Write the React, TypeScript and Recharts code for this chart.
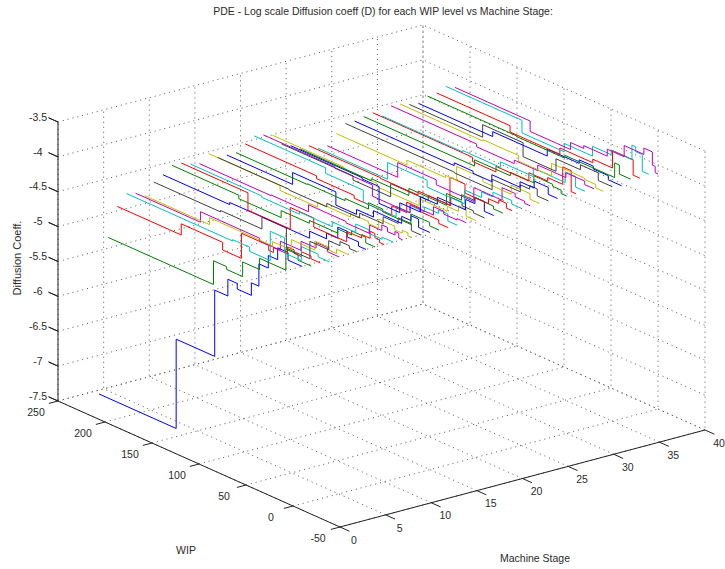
import React from "react";
import { LineChart, Line, XAxis, YAxis, ReferenceDot } from "recharts";

const W = 725;
const H = 569;

const stageTicks = [0, 5, 10, 15, 20, 25, 30, 35, 40];
const wipTicks = [-50, 0, 50, 100, 150, 200, 250];
const coeffTicks = [-7.5, -7, -6.5, -6, -5.5, -5, -4.5, -4, -3.5];

// each list: [wip where the level starts, log D level]; runs down to wip 0
const stage01 = [[216, -7.23], [134, -5.95], [93, -5.0], [79, -4.76], [69, -4.84], [54, -4.66], [46, -4.34], [36, -4.16], [26, -3.99], [15, -4.1]];
const stage02 = [[216, -5.02], [104, -4.68], [90, -4.72], [73, -4.51], [55, -4.35], [27, -4.05], [14, -4.13]];
const stage03 = [[216, -4.61], [148, -4.45], [104, -4.56], [84, -4.2], [55, -4.27], [50, -4.2], [35, -4.1], [28, -4.15], [20, -4.08], [10, -4.12]];
const stage04 = [[216, -4.46], [103, -4.44], [85, -4.5], [63, -4.08], [48, -4.3], [30, -4.1], [12, -4.14]];
const stage05 = [[216, -4.49], [147, -4.34], [84, -4.38], [62, -4.25], [40, -4.12], [24, -4.04], [12, -4.1]];
const stage06 = [[216, -4.56], [147, -4.46], [80, -4.4], [60, -4.25], [35, -4.12], [20, -4.16], [12, -4.1]];
const stage07 = [[216, -4.4], [145, -4.38], [101, -4.21], [75, -4.5], [50, -4.25], [30, -4.12], [18, -4.06], [8, -4.1]];
const stage08 = [[216, -4.33], [145, -4.3], [100, -4.3], [60, -4.2], [42, -4.12], [30, -3.96], [20, -4.04], [8, -4.1]];
const stage09 = [[216, -4.23], [145, -4.28], [100, -4.18], [70, -4.14], [40, -4.08], [25, -4.02], [10, -4.1]];
const stage10 = [[216, -4.23], [145, -4.48], [100, -4.17], [75, -4.3], [40, -4.15], [24, -4.1], [15, -4.0], [10, -4.06], [5, -4.1]];
const stage11 = [[216, -4.28], [140, -4.3], [100, -4.27], [65, -4.2], [40, -4.08], [26, -4.13], [12, -4.1]];
const stage12 = [[216, -4.31], [140, -4.3], [100, -4.2], [60, -4.22], [35, -4.1], [22, -4.02], [16, -4.08], [8, -4.03], [4, -4.1]];
const stage13 = [[216, -4.2], [140, -4.27], [100, -4.2], [65, -4.15], [46, -4.18], [35, -4.05], [18, -4.1], [10, -4.06], [4, -4.1]];
const stage14 = [[216, -4.29], [140, -4.3], [100, -4.25], [65, -4.18], [40, -4.08], [24, -4.0], [10, -4.1]];
const stage15 = [[216, -4.29], [146, -4.12], [100, -4.31], [78, -4.24], [60, -4.15], [30, -4.05], [20, -3.98], [12, -4.1]];
const stage16 = [[216, -4.29], [140, -4.28], [100, -4.25], [75, -4.16], [60, -4.2], [30, -4.05], [10, -4.1]];
const stage17 = [[216, -4.2], [140, -4.24], [100, -4.28], [60, -4.15], [44, -4.0], [30, -4.05], [10, -4.1]];
const stage18 = [[216, -4.12], [140, -4.2], [100, -4.37], [65, -4.22], [50, -4.12], [35, -4.05], [20, -4.0], [10, -4.1]];
const stage19 = [[216, -4.14], [140, -4.16], [100, -4.32], [60, -4.2], [35, -4.08], [24, -4.12], [10, -4.1]];
const stage20 = [[216, -4.18], [140, -4.2], [105, -4.25], [60, -4.15], [30, -4.08], [18, -4.0], [10, -4.1]];
const stage21 = [[216, -4.34], [140, -4.4], [100, -4.21], [60, -4.14], [36, -4.02], [24, -4.07], [12, -4.1]];
const stage22 = [[216, -4.4], [140, -4.42], [122, -4.66], [100, -4.52], [78, -4.3], [60, -4.2], [30, -4.05], [20, -3.96], [10, -4.1]];
const stage23 = [[216, -4.48], [140, -4.45], [100, -4.35], [60, -4.18], [44, -4.1], [30, -4.06], [10, -4.1]];
const stage24 = [[216, -4.47], [140, -4.48], [100, -4.42], [66, -4.02], [50, -4.15], [25, -4.08], [14, -4.03], [6, -4.1]];
const stage25 = [[216, -4.54], [142, -4.3], [100, -4.4], [60, -4.2], [42, -4.12], [30, -4.05], [10, -4.1]];
const stage26 = [[216, -4.54], [141, -4.33], [100, -4.4], [60, -4.2], [30, -4.02], [16, -4.07], [6, -4.1]];
const stage27 = [[216, -4.4], [141, -4.33], [100, -4.3], [88, -4.1], [60, -4.15], [30, -4.02], [10, -4.1]];
const stage28 = [[216, -4.29], [100, -4.3], [60, -4.15], [30, -4.05], [20, -4.0], [12, -4.1]];
const stage29 = [[216, -4.29], [110, -4.25], [90, -4.28], [70, -4.18], [40, -4.1], [25, -4.0], [10, -4.1]];
const stage30 = [[216, -4.26], [98, -4.17], [60, -4.12], [35, -4.02], [15, -4.05], [6, -4.1]];
const stage31 = [[216, -4.24], [110, -4.3], [85, -4.22], [50, -4.1], [30, -4.05], [14, -3.8], [5, -4.1]];
const stage32 = [[216, -4.32], [130, -4.3], [90, -4.22], [55, -4.1], [21, -3.95], [10, -4.1]];
const stage33 = [[216, -4.21], [125, -4.25], [85, -4.2], [60, -4.12], [30, -4.05], [10, -4.1]];
const stage34 = [[216, -4.22], [128, -4.2], [90, -4.28], [55, -4.1], [20, -4.12], [8, -4.17]];
const stage35 = [[216, -4.26], [138, -4.08], [95, -4.28], [60, -4.1], [34, -4.03], [15, -4.14]];
const stage36 = [[216, -4.28], [137, -4.21], [79, -4.11], [45, -4.06], [30, -4.1], [14, -4.16]];
const stage37 = [[216, -4.21], [120, -4.22], [70, -4.18], [17, -3.97], [12, -4.1]];
const stage38 = [[216, -4.2], [138, -4.29], [85, -4.2], [50, -4.15], [29, -3.9], [7, -4.12]];
const stage39 = [[216, -4.14], [135, -4.32], [90, -4.2], [60, -4.06], [40, -4.0], [18, -3.79], [14, -3.86], [7, -4.1]];
const stage40 = [[216, -4.19], [136, -4.34], [93, -4.24], [79, -4.2], [54, -4.1], [36, -3.94], [15, -3.85], [6, -4.04], [3, -4.13]];

const allStages = [
  stage01, stage02, stage03, stage04, stage05, stage06, stage07, stage08, stage09, stage10,
  stage11, stage12, stage13, stage14, stage15, stage16, stage17, stage18, stage19, stage20,
  stage21, stage22, stage23, stage24, stage25, stage26, stage27, stage28, stage29, stage30,
  stage31, stage32, stage33, stage34, stage35, stage36, stage37, stage38, stage39, stage40,
];

// matlab default line colours
const colors = ["#0000ff", "#008000", "#ff0000", "#00bfbf", "#bf00bf", "#bfbf00", "#404040"];

// matlab view is orthographic, so this is linear
const project = (stage: number, wip: number, z: number) => ({
  x: 58 + (250 - wip) * 0.94 + stage * 9.125,
  y: 401 + (250 - wip) * 0.42 - stage * 2.425 - (z + 7.5) * 69.75,
});

const stepPath = (stage: number, steps: number[][]) => {
  const pts: { x: number; y: number }[] = [];
  steps.forEach(([wip, z], i) => {
    const next = i + 1 < steps.length ? steps[i + 1][0] : 0;
    pts.push(project(stage, wip, z), project(stage, next, z));
  });
  return pts;
};

const S0 = 0, S1 = 40, W0 = -50, W1 = 250, Z0 = -7.5, Z1 = -3.5;

const gridLines = [
  ...coeffTicks.map((z) => [project(S0, W1, z), project(S1, W1, z), project(S1, W0, z)]),
  ...stageTicks.map((s) => [project(s, W0, Z0), project(s, W1, Z0), project(s, W1, Z1)]),
  ...wipTicks.map((w) => [project(S0, w, Z0), project(S1, w, Z0), project(S1, w, Z1)]),
];

// z ticks go out and back along the axis itself
const zAxisPath = coeffTicks.flatMap((z) => [project(S0, W1, z), project(S0, W1 + 10, z), project(S0, W1, z)]);

const axisLines = [
  zAxisPath,
  [project(S0, W1, Z0), project(S0, W0, Z0), project(S1, W0, Z0)],
  ...wipTicks.map((w) => [project(S0, w, Z0), project(S0 - 1, w, Z0)]),
  ...stageTicks.map((s) => [project(s, W0, Z0), project(s, W0 - 10, Z0)]),
];

const textColor = "#2b2b2b";

const Mark = (x: number, y: number, value: string, key: string, fontSize = 10.5, angle = 0) => (
  <ReferenceDot
    key={key}
    x={x}
    y={y}
    r={0}
    fill="none"
    stroke="none"
    ifOverflow="visible"
    label={{ value, position: "center", fill: textColor, fontSize, angle, fontFamily: "Liberation Sans" }}
  />
);

export default function App() {
  return (
    <div style={{ position: "absolute", left: 0, top: 0, width: W, height: H, background: "#fff" }}>
      <LineChart width={W} height={H} margin={{ top: 0, right: 0, bottom: 0, left: 0 }}>
        <XAxis dataKey="x" type="number" domain={[0, W]} hide allowDataOverflow />
        <YAxis dataKey="y" type="number" domain={[0, H]} reversed hide allowDataOverflow />
        {gridLines.map((pts, i) => (
          <Line
            key={"g" + i}
            data={pts}
            dataKey="y"
            stroke="#555"
            strokeWidth={1}
            strokeDasharray="1 4"
            dot={false}
            activeDot={false}
            isAnimationActive={false}
          />
        ))}
        {axisLines.map((pts, i) => (
          <Line key={"a" + i} data={pts} dataKey="y" stroke="#222" strokeWidth={1} dot={false} activeDot={false} isAnimationActive={false} />
        ))}
        {allStages.map((steps, i) => (
          <Line
            key={"s" + i}
            data={stepPath(i + 1, steps)}
            dataKey="y"
            stroke={colors[i % colors.length]}
            strokeWidth={1}
            dot={false}
            activeDot={false}
            isAnimationActive={false}
          />
        ))}
        {coeffTicks.map((z) => {
          const p = project(S0, W1, z);
          return Mark(p.x - 20, p.y - 5, String(z), "z" + z);
        })}
        {wipTicks.map((w) => {
          const p = project(S0, w, Z0);
          return Mark(p.x - 22, p.y + 11, String(w), "w" + w);
        })}
        {stageTicks.map((s) => {
          const p = project(s, W0, Z0);
          return Mark(p.x + 14, p.y + 13, String(s), "st" + s);
        })}
        {Mark(383, 11, "PDE - Log scale Diffusion coeff (D) for each WIP level vs Machine Stage:", "title")}
        {Mark(186, 550, "WIP", "xl")}
        {Mark(535, 558, "Machine Stage", "yl")}
        {Mark(17, 258, "Diffusion Coeff.", "zl", 11, -90)}
      </LineChart>
    </div>
  );
}
